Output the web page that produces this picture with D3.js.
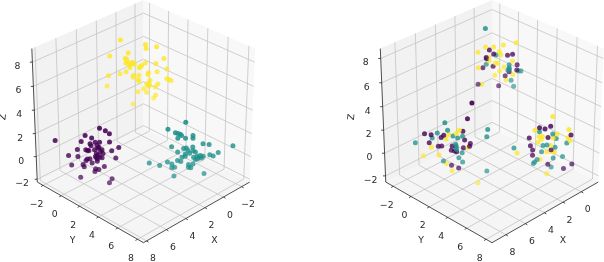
<!DOCTYPE html>
<html><head><meta charset="utf-8"><style>html,body{margin:0;background:#fff}svg{display:block;font-family:"DejaVu Sans";filter:blur(.3px)}</style>
<script src="https://cdn.jsdelivr.net/npm/d3@7"></script></head><body><svg id="c" width="604" height="262"></svg>
<script>
const ticks=[-2,0,2,4,6,8];
const rightXTicks=[0,2,4,6,8];
// Left chart: three separated clusters
const purpleX=[4.65,4.35,4.14,5.41,5.07,6.98,5.62,4.14,5.16,4.89,4.66,4.80,3.66,4.70,4.54,4.03,5.83,5.39,5.30,5.23,6.30,5.81,4.84,4.75,4.49,4.66,4.89,4.54,3.82,5.39,5.18,4.80,6.15,5.55,5.49,5.07,4.43,4.89,4.72,4.93,5.69,4.03,4.17,4.93,4.75,4.79,5.32,5.11,4.61,4.84];
const purpleY=[.35,.65,.86,-.41,-.07,-1.98,-.62,.86,-.16,.11,.34,.20,1.34,.30,.46,.97,-.83,-.39,-.30,-.23,-1.30,-.81,.16,.25,.51,.34,.11,.46,1.18,-.39,-.18,.20,-1.15,-.55,-.49,-.07,.57,.11,.28,.07,-.69,.97,.83,.07,.25,.21,-.32,-.11,.39,.16];
const purpleZ=[2.19,1.96,1.70,1.55,1.35,1.12,1.03,1.00,.83,.97,.97,.68,.51,.54,.31,.22,.34,.31,.25,.25,-.18,-.27,-.02,-.12,-.02,-.33,-.27,-.38,-.41,-.62,-.47,-.70,-1.02,-.99,-1.19,-.85,-1.16,-1.37,-1.43,-1.60,-2.12,-2.26,-2.61,.31,.45,-.50,-.50,.66,.16,-.36];
const tealX=[.17,1.09,.70,.57,.45,.38,.57,-.22,-.22,.17,.89,-.75,-1.07,-2.32,.26,.12,-.22,.57,.03,.17,-.24,-.36,-1.56,-1.12,-1.30,.17,-.27,-.45,-.63,-.77,-.48,-.36,.57,.40,1.10,2.06,1.51,.87,-.01,-.24,.87,.72,-.01,-.13,-.84,.75,-.54,-.68,-.06,.34];
const tealY=[4.83,3.91,4.30,4.43,4.55,4.62,4.43,5.22,5.22,4.83,4.11,5.75,6.07,7.32,4.74,4.88,5.22,4.43,4.97,4.83,5.24,5.36,6.56,6.12,6.30,4.83,5.27,5.45,5.63,5.77,5.48,5.36,4.43,4.60,3.90,2.94,3.49,4.13,5.01,5.24,4.13,4.28,5.01,5.13,5.84,4.25,5.54,5.68,5.06,4.66];
const tealZ=[2.70,2.10,1.78,1.72,1.66,1.55,1.32,1.55,1.32,1.32,.57,.83,.77,.65,.42,.45,.54,.10,.25,-.07,.22,.10,.07,-.13,-.24,-.27,-.36,-.27,-.19,-.27,-.50,-.56,-.65,-.73,-.76,-.85,-1.08,-.94,-.99,-.94,-1.28,-1.23,-1.23,-1.28,-1.80,-2.01,-.36,-.42,-.01,-.36];
const yellowX=[1.07,-.23,-.27,-.82,.67,1.64,.83,.75,-1.20,.79,.45,.35,.60,-.23,-.04,.10,-.78,.58,-1.36,.79,1.11,1.71,.40,.42,.12,-.39,-.36,-.85,.15,.12,-.48,-.43,-.30,-.89,-1.36,-1.47,-1.59,1.80,-.76,-.39,-.14,.17,-.30,-.78,-.67,.42,.49,.05,-.44,.68];
const yellowY=[-1.07,.23,.27,.82,-.67,-1.64,-.83,-.75,1.20,-.79,-.45,-.35,-.60,.23,.04,-.10,.78,-.58,1.36,-.79,-1.11,-1.71,-.40,-.42,-.12,.39,.36,.85,-.15,-.12,.48,.43,.30,.89,1.36,1.47,1.59,-1.80,.76,.39,.14,-.17,.30,.78,.67,-.42,-.49,-.05,.44,-.68];
const yellowZ=[7.72,7.34,6.99,7.14,6.62,6.36,6.16,6.10,6.16,5.75,5.84,5.69,5.60,5.78,5.55,5.37,5.72,5.40,5.26,5.03,4.85,4.68,4.73,4.56,4.73,4.97,4.79,5.03,4.36,4.21,4.30,4.04,3.98,3.98,4.42,4.36,4.27,3.81,3.72,3.78,3.55,3.31,3.26,3.02,2.76,2.24,5.75,5.46,3.84,5.81];
// Right chart: same kind of clusters with mixed classes (p, t, y)
const rightX=[5.44,4.24,3.17,3.22,5.30,4.68,4.49,6.53,5.85,6.18,4.84,5.25,5.51,5.65,5.02,4.51,4.77,5.39,4.40,7.03,6.29,6.18,5.81,5.63,4.10,4.89,5.07,4.86,4.47,4.22,4.14,5.12,4.95,4.84,4.84,4.54,6.62,5.78,4.72,5.55,4.52,5.39,5.12,4.74,5.09,3.22,3.70,4.86,6.13,4.0,
-.27,.66,.42,.42,.13,-.17,-.29,-.52,-1.14,.96,.43,.26,.31,-.04,-.48,-.31,-1.10,-1.26,-1.22,-1.05,.49,.22,.01,.89,-.18,-.43,.77,.29,-.22,.01,-.22,-.40,-.84,-.34,.77,.36,.52,.65,.72,-.06,-.24,-.91,-1.35,-.02,1.77,1.60,
.81,-.83,-.15,.81,.37,1.21,.60,.07,-.02,.77,.37,.24,-.37,-.64,.63,.28,.15,.77,.95,1.20,.40,-.18,.05,-.46,-.46,-.89,-.39,-.87,-.96,-1.10,-.46,-.64,.31,-.25,-.66,-.30,-.57,1.21,1.00,.10,-.71,.75,.63,-.48];
const rightY=[-.44,.76,1.83,1.78,-.30,.32,.51,-1.53,-.85,-1.18,.16,-.25,-.51,-.65,-.02,.49,.23,-.39,.60,-2.03,-1.29,-1.18,-.81,-.63,.90,.11,-.07,.14,.53,.78,.86,-.12,.05,.16,.16,.46,-1.62,-.78,.28,-.55,.48,-.39,-.12,.26,-.09,1.78,1.30,.14,-1.13,1.0,
5.27,4.34,4.58,4.58,4.87,5.17,5.29,5.52,6.14,4.04,4.57,4.74,4.69,5.04,5.48,5.31,6.10,6.26,6.22,6.05,4.51,4.78,4.99,4.11,5.18,5.43,4.23,4.71,5.22,4.99,5.22,5.40,5.84,5.34,4.23,4.64,4.48,4.35,4.28,5.06,5.24,5.91,6.35,5.02,3.23,3.40,
-.81,.83,.15,-.81,-.37,-1.21,-.60,-.07,.02,-.77,-.37,-.24,.37,.64,-.63,-.28,-.15,-.77,-.95,-1.20,-.40,.18,-.05,.46,.46,.89,.39,.87,.96,1.10,.46,.64,-.31,.25,.66,.30,.57,-1.21,-1.00,-.10,.71,-.75,-.63,.48];
const rightZ=[1.99,2.31,1.38,.75,1.33,1.33,1.24,1.04,1.09,.95,1.04,.95,.89,.69,.83,.80,.66,.57,.48,.25,.25,-.15,-.07,-.04,.17,.11,-.04,-.18,-.21,-.18,-.07,-.42,-.50,-.36,-.56,-.65,-.91,-.85,-1.08,-1.37,-1.46,-1.60,-1.75,-2.01,-2.24,-2.27,-3.34,-.04,.66,3.67,
2.49,1.30,1.53,1.18,1.41,1.64,.98,.98,1.35,.63,.75,.75,.51,.66,.57,.63,.63,.89,.37,.19,.25,-.04,.02,-.04,-.04,-.18,-.42,-.59,-.42,-.59,-.56,-.62,-1.00,-1.14,-.88,-1.26,-1.26,-1.49,-1.63,-1.69,-1.95,-2.07,-1.69,-2.53,-.24,-.68,
8.07,6.85,6.67,6.50,6.50,6.06,6.26,6.12,5.85,5.62,5.91,5.82,5.80,5.88,5.33,5.15,5.12,5.04,4.74,4.74,4.86,4.80,4.45,4.98,4.74,4.98,4.54,4.54,4.45,4.45,4.39,5.30,4.10,4.04,4.16,3.69,3.66,3.31,3.31,3.17,3.14,5.50,5.62,4.60];
const rightClass="tptttypptp"+"yypptttypt"+"pyppptptpy"+"ppptptyytt"+"typpytyttp"+
"yyptpptyyp"+"yyyptyypyt"+"yttpytptpy"+"yyttpytttp"+"tppyty"+
"tyyyyypyyp"+"ptppyyytpy"+"pyyttptptt"+"pyypyytpyp"+"tpyt";
const classColor=d3.scaleOrdinal(["p","t","y"],[d3.interpolateViridis(0),d3.interpolateViridis(.5),d3.interpolateViridis(1)]);
const zip=(xs,ys,zs,cs)=>xs.map((x,i)=>({x,y:ys[i],z:zs[i],c:cs.length>1?cs[i]:cs}));
const panels=[
 {cx:143.5,xd:[-2.9,8.3],yd:[-2.65,8.6],zd:[-2.25,9.1],xt:ticks,pts:[...zip(purpleX,purpleY,purpleZ,"p"),...zip(tealX,tealY,tealZ,"t"),...zip(yellowX,yellowY,yellowZ,"y")]},
 {cx:492,xd:[-1.9,9.4],yd:[-2.85,8.6],zd:[-2.55,8.8],xt:rightXTicks,pts:zip(rightX,rightY,rightZ,rightClass)}];
const svg=d3.select("#c");
const S=154,CY=117,D=10,c45=Math.SQRT1_2,e=Math.PI/6;
panels.forEach(p=>{
 const sx=d3.scaleLinear().domain(p.xd).range([-.5,.5]),sy=d3.scaleLinear().domain(p.yd).range([-.5,.5]),sz=d3.scaleLinear().domain(p.zd).range([-.5,.5]);
 const depth=(a,b,c)=>Math.cos(e)*c45*(a+b)+Math.sin(e)*c;
 const pr=(a,b,c)=>{const u=c45*(b-a),v=-Math.sin(e)*c45*(a+b)+Math.cos(e)*c,f=D/(D-depth(a,b,c));return [p.cx+S*u*f,CY-S*v*f];};
 const P=(x,y,z)=>pr(sx(x),sy(y),sz(z));
 const line=d3.line();
 const g=svg.append("g");
 const poly=(pts,fill)=>g.append("path").attr("d",line(pts)+"Z").attr("fill",fill);
 poly([pr(-.5,-.5,-.5),pr(.5,-.5,-.5),pr(.5,-.5,.5),pr(-.5,-.5,.5)],"#f2f2f2");
 poly([pr(-.5,-.5,-.5),pr(-.5,.5,-.5),pr(-.5,.5,.5),pr(-.5,-.5,.5)],"#f8f8f8");
 poly([pr(-.5,-.5,-.5),pr(.5,-.5,-.5),pr(.5,.5,-.5),pr(-.5,.5,-.5)],"#f5f5f5");
 const gl=(a,b)=>g.append("path").attr("d",line([a,b])).attr("stroke","#c4c4c4").attr("stroke-width",.8).attr("fill","none");
 const [xmin,xmax]=p.xd,[ymin,ymax]=p.yd,[zmin,zmax]=p.zd;
 p.xt.forEach(t=>{gl(P(t,ymax,zmin),P(t,ymin,zmin));gl(P(t,ymin,zmin),P(t,ymin,zmax));});
 ticks.forEach(t=>{gl(P(xmax,t,zmin),P(xmin,t,zmin));gl(P(xmin,t,zmin),P(xmin,t,zmax));});
 ticks.forEach(t=>{gl(P(xmax,ymin,t),P(xmin,ymin,t));gl(P(xmin,ymin,t),P(xmin,ymax,t));});
 const ax=(a,b)=>g.append("path").attr("d",line([a,b])).attr("stroke","#222").attr("stroke-width",.8).attr("fill","none");
 ax(P(xmax,ymin,zmin),P(xmax,ymax,zmin));ax(P(xmax,ymax,zmin),P(xmin,ymax,zmin));ax(P(xmax,ymin,zmin),P(xmax,ymin,zmax));
 const txt=(q,s,r)=>{const t=g.append("text").attr("x",q[0]).attr("y",q[1]).attr("text-anchor","middle").attr("dominant-baseline","central").attr("font-size",9.3).attr("fill","#2a2a2a").text(s);if(r)t.attr("transform",`rotate(${r} ${q[0]} ${q[1]})`);};
 const fm=t=>t<0?"\u2212"+(-t):""+t;
 p.xt.forEach(t=>{const a=P(t,ymax,zmin);ax(a,[a[0]+2,a[1]+1.2]);txt([a[0]+6.5,a[1]+17],fm(t));});
 ticks.forEach(t=>{const a=P(xmax,t,zmin);ax(a,[a[0]-2,a[1]+1.2]);txt([a[0]-6.5,a[1]+18],fm(t));});
 ticks.forEach(t=>{const a=P(xmax,ymin,t);ax(a,[a[0]-2.5,a[1]]);txt([a[0]-15,a[1]+3.5],fm(t));});
 txt([p.cx+71,239],"X");txt([p.cx-71,239],"Y");txt([p.cx-141.5,117],"Z",-84);
 const w=d=>depth(sx(d.x),sy(d.y),sz(d.z));
 const op=d3.scaleLinear().domain(d3.extent(p.pts,w)).range([.62,.92]);
 g.append("g").selectAll("circle").data(p.pts.slice().sort((a,b)=>w(a)-w(b))).join("circle")
  .attr("cx",d=>P(d.x,d.y,d.z)[0]).attr("cy",d=>P(d.x,d.y,d.z)[1]).attr("r",2.5)
  .attr("fill",d=>classColor(d.c)).attr("fill-opacity",d=>op(w(d)));
});
</script></body></html>
